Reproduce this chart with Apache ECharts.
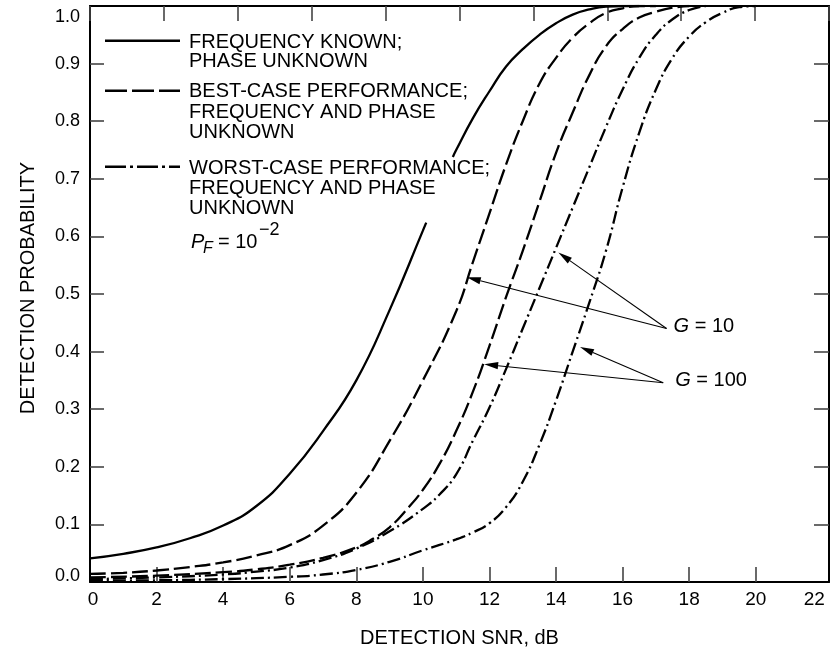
<!DOCTYPE html>
<html>
<head>
<meta charset="utf-8">
<script src="https://cdn.jsdelivr.net/npm/echarts@6/dist/echarts.min.js"></script>
<style>
  html, body { margin: 0; padding: 0; background: #fff; }
  #chart { width: 832px; height: 653px; }
</style>
</head>
<body>
<div id="chart"></div>
<script>
// Detection SNR (dB) vs detection probability, PF = 1e-2
// Frequency known, phase unknown (null marks the break where the curve passes the key text)
const freqKnownSnr = [0, 1, 2, 3, 4, 5, 6, 7, 8, 9, 10, 10.1, 10.5, 10.9, 11, 11.5, 12, 12.5, 13, 13.5, 14, 14.5, 15, 15.5, 16, 16.5];
const freqKnownPd  = [0.041, 0.049, 0.060, 0.076, 0.098, 0.132, 0.188, 0.262, 0.350, 0.472, 0.610, 0.624, null, 0.738, 0.750, 0.805, 0.852, 0.895, 0.925, 0.950, 0.970, 0.985, 0.994, 0.999, 1.0, 1.0];

// Best case, frequency and phase unknown, G = 10
const bestG10Snr = [0, 1, 2, 3, 4, 5, 6, 7, 8, 9, 10, 11, 11.5, 12, 12.5, 13, 13.5, 14, 14.5, 15, 15.5, 16, 16.5, 17];
const bestG10Pd  = [0.014, 0.016, 0.020, 0.026, 0.034, 0.046, 0.064, 0.098, 0.155, 0.245, 0.350, 0.470, 0.555, 0.640, 0.725, 0.800, 0.865, 0.910, 0.945, 0.970, 0.988, 0.996, 1.0, 1.0];

// Best case, frequency and phase unknown, G = 100
const bestG100Snr = [0, 2, 4, 5, 6, 7, 8, 8.5, 9, 9.5, 10, 10.5, 11, 11.5, 12, 12.5, 13, 13.5, 14, 14.5, 15, 15.5, 16, 16.5, 17, 17.5, 18];
const bestG100Pd  = [0.008, 0.011, 0.017, 0.022, 0.030, 0.042, 0.060, 0.075, 0.095, 0.125, 0.160, 0.205, 0.262, 0.330, 0.410, 0.495, 0.575, 0.660, 0.745, 0.815, 0.880, 0.930, 0.960, 0.980, 0.990, 0.997, 1.0];

// Worst case, frequency and phase unknown, G = 10
const worstG10Snr = [0, 2, 4, 5, 6, 7, 8, 9, 10, 10.5, 11, 11.5, 12, 12.5, 13, 13.5, 14, 14.5, 15, 15.5, 16, 16.5, 17, 17.5, 18, 18.5];
const worstG10Pd  = [0.005, 0.008, 0.013, 0.018, 0.025, 0.038, 0.058, 0.088, 0.127, 0.152, 0.187, 0.245, 0.303, 0.370, 0.440, 0.510, 0.580, 0.650, 0.720, 0.790, 0.855, 0.910, 0.950, 0.977, 0.993, 1.0];

// Worst case, frequency and phase unknown, G = 100
const worstG100Snr = [0, 2, 4, 6, 7, 8, 9, 10, 11, 11.5, 12, 12.5, 13, 13.5, 14, 14.5, 15, 15.5, 16, 16.5, 17, 17.5, 18, 18.5, 19, 19.5, 20];
const worstG100Pd  = [0.002, 0.003, 0.005, 0.009, 0.013, 0.021, 0.035, 0.055, 0.074, 0.086, 0.102, 0.130, 0.174, 0.238, 0.315, 0.400, 0.485, 0.575, 0.685, 0.780, 0.855, 0.910, 0.947, 0.972, 0.988, 0.998, 1.0];

// Axis tick labels
const snrTicks = [0, 2, 4, 6, 8, 10, 12, 14, 16, 18, 20, 22];
const pdTicks = [0, 0.1, 0.2, 0.3, 0.4, 0.5, 0.6, 0.7, 0.8, 0.9, 1.0];

// Key entries
const keyEntries = [
  ['FREQUENCY KNOWN;', 'PHASE UNKNOWN'],
  ['BEST-CASE PERFORMANCE;', 'FREQUENCY AND PHASE', 'UNKNOWN'],
  ['WORST-CASE PERFORMANCE;', 'FREQUENCY AND PHASE', 'UNKNOWN']
];

// Processing-gain callouts: arrow tail and the curve points they point at (data units)
const gainCallouts = [
  { gain: '10',  tail: [17.32, 0.440], tips: [[11.32, 0.529], [14.07, 0.572]], textDx: 7 },
  { gain: '100', tail: [17.22, 0.346], tips: [[11.84, 0.378], [14.72, 0.408]], textDx: 12 }
];

const FONT = '"Liberation Sans", Arial, Helvetica, sans-serif';
const INK = '#000';

function pairs(xs, ys) {
  return xs.map((x, i) => [x, ys[i] === null ? '-' : ys[i]]);
}

const DASH = [16, 5];
const DASH_DOT = [13, 4, 2, 4];

function curve(name, xs, ys, type) {
  return {
    name, type: 'line', data: pairs(xs, ys),
    xAxisIndex: 0, yAxisIndex: 0,
    showSymbol: false, symbol: 'none',
    smooth: 0.5,
    connectNulls: false,
    clip: true,
    lineStyle: { color: INK, width: 2.3, type: type, cap: 'butt' },
    emphasis: { disabled: true },
    silent: true,
    z: 3
  };
}

const chart = echarts.init(document.getElementById('chart'), null, { renderer: 'canvas' });

const tickStyle = { color: '#444', width: 1.6 };
const frameLine = { show: true, onZero: false, lineStyle: { color: INK, width: 2 } };

chart.setOption({
  animation: false,
  backgroundColor: '#fff',
  textStyle: { fontFamily: FONT },
  grid: { left: 90, right: 3, top: 6, bottom: 71 },
  xAxis: [
    {
      type: 'value', position: 'bottom', min: 0, max: 22.2, interval: 2,
      axisLine: frameLine,
      axisTick: { show: true, inside: true, length: 15, lineStyle: tickStyle,
                  customValues: snrTicks.filter(v => v > 0 && v < 22) },
      axisLabel: {
        customValues: snrTicks,
        margin: 8, color: INK, fontFamily: FONT, fontSize: 19,
        formatter: v => v === 0 ? '{first|0}' : (v === 22 ? '{last|22}' : String(v)),
        rich: {
          first: { fontFamily: FONT, fontSize: 19, color: INK, padding: [0, 0, 0, 6] },
          last: { fontFamily: FONT, fontSize: 19, color: INK, padding: [0, 16, 0, 0] }
        }
      },
      splitLine: { show: false },
      name: 'DETECTION SNR, dB', nameLocation: 'middle', nameGap: 46,
      nameTextStyle: { fontFamily: FONT, fontSize: 20, color: INK }
    },
    {
      type: 'value', position: 'top', min: 0, max: 10, interval: 1,
      axisLine: frameLine,
      axisTick: { show: true, inside: true, length: 15, lineStyle: tickStyle },
      axisLabel: { show: false },
      splitLine: { show: false }
    }
  ],
  yAxis: [
    {
      type: 'value', position: 'left', min: 0, max: 1, interval: 0.1,
      axisLine: frameLine,
      axisTick: { show: true, inside: true, length: 14, lineStyle: tickStyle,
                  customValues: pdTicks.filter(v => v > 0 && v < 1) },
      axisLabel: {
        customValues: pdTicks,
        margin: 10, color: INK, fontFamily: FONT, fontSize: 18,
        formatter: v => {
          const s = v.toFixed(1);
          if (v >= 0.999) return '{top|' + s + '}';
          if (v <= 0.001) return '{bot|' + s + '}';
          return s;
        },
        rich: {
          top: { fontFamily: FONT, fontSize: 18, color: INK, padding: [22, 0, 0, 0] },
          bot: { fontFamily: FONT, fontSize: 18, color: INK, padding: [0, 0, 12, 0] }
        }
      },
      splitLine: { show: false },
      name: 'DETECTION PROBABILITY', nameLocation: 'middle', nameGap: 52,
      nameTextStyle: { fontFamily: FONT, fontSize: 20, color: INK, padding: [0, 0, 0, 12] }
    },
    {
      type: 'value', position: 'right', min: 0, max: 1, interval: 0.1,
      axisLine: frameLine,
      axisTick: { show: true, inside: true, length: 15, lineStyle: tickStyle,
                  customValues: pdTicks.filter(v => v > 0 && v < 1) },
      axisLabel: { show: false },
      splitLine: { show: false }
    }
  ],
  series: [
    curve('Frequency known; phase unknown', freqKnownSnr, freqKnownPd, 'solid'),
    curve('Best case, G = 10', bestG10Snr, bestG10Pd, DASH),
    curve('Best case, G = 100', bestG100Snr, bestG100Pd, DASH),
    curve('Worst case, G = 10', worstG10Snr, worstG10Pd, DASH_DOT),
    curve('Worst case, G = 100', worstG100Snr, worstG100Pd, DASH_DOT)
  ]
});

// Key, PF note and gain callouts
const graphics = [];

function textEl(x, y, text, font) {
  return {
    type: 'text', x, y, silent: true, z: 10,
    style: { text, fill: INK, font: font, verticalAlign: 'middle', align: 'left' }
  };
}

function keyLine(y, dash) {
  return {
    type: 'line', silent: true, z: 10,
    shape: { x1: 105, y1: y, x2: 180, y2: y },
    style: { stroke: INK, lineWidth: 2.5, lineDash: dash, lineCap: 'butt' }
  };
}

graphics.push(keyLine(40.7, null));
graphics.push(keyLine(90.7, [22, 5]));
graphics.push(keyLine(166.7, [21, 4, 3, 4]));

const keyLineY = [[42.3, 61], [91.7, 112.5, 132.8], [168.3, 188.3, 208.3]];
keyEntries.forEach((lines, i) => {
  lines.forEach((t, j) => graphics.push(textEl(189, keyLineY[i][j], t, '20px ' + FONT)));
});

// PF = 10^-2
graphics.push(textEl(191, 242.5, 'P', 'italic 20px ' + FONT));
graphics.push(textEl(203, 248.5, 'F', 'italic 16px ' + FONT));
graphics.push(textEl(218, 242.5, '= 10', '20px ' + FONT));
graphics.push(textEl(259, 230.5, '\u22122', '18px ' + FONT));

// Gain callouts with arrows computed from data coordinates
gainCallouts.forEach(c => {
  const [tx, ty] = chart.convertToPixel({ xAxisIndex: 0, yAxisIndex: 0 }, c.tail);
  c.tips.forEach(tip => {
    const [px, py] = chart.convertToPixel({ xAxisIndex: 0, yAxisIndex: 0 }, tip);
    const dx = px - tx, dy = py - ty;
    const len = Math.hypot(dx, dy);
    const ux = dx / len, uy = dy / len;
    const headLen = 14, headHalf = 3.6;
    const bx = px - ux * headLen, by = py - uy * headLen;
    const nx = -uy, ny = ux;
    graphics.push({
      type: 'line', silent: true, z: 9,
      shape: { x1: tx, y1: ty, x2: bx, y2: by },
      style: { stroke: INK, lineWidth: 1.1 }
    });
    graphics.push({
      type: 'polygon', silent: true, z: 9,
      shape: { points: [[px, py], [bx + nx * headHalf, by + ny * headHalf], [bx - nx * headHalf, by - ny * headHalf]] },
      style: { fill: INK }
    });
  });
  graphics.push({
    type: 'text', silent: true, z: 10,
    x: tx + c.textDx, y: ty - 2,
    style: {
      text: '{g|G} = ' + c.gain,
      fill: INK, font: '20px ' + FONT, verticalAlign: 'middle', align: 'left',
      rich: { g: { fontStyle: 'italic', fontSize: 20, fontFamily: FONT, fill: INK } }
    }
  });
});

chart.setOption({ graphic: graphics });
</script>
</body>
</html>
